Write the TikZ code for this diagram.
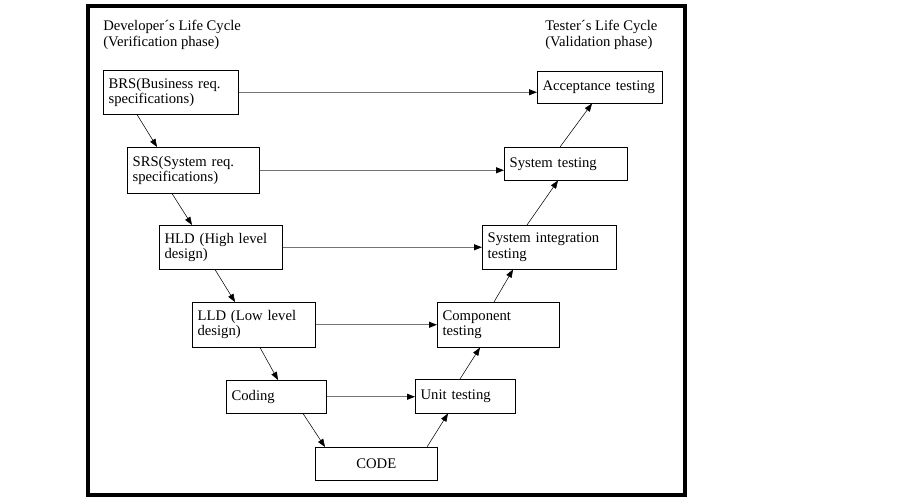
\documentclass[tikz,border=0pt]{standalone}
\usepackage{fontspec}
\setmainfont{Liberation Serif}
\usetikzlibrary{arrows.meta, calc}

\begin{document}
\begin{tikzpicture}[
      x=0.75pt, y=-0.75pt,
      box/.style      = {draw, thin, anchor=north west, align=left, inner xsep=4pt,
                         inner ysep=0pt, font=\fontsize{11}{11.5}\selectfont},
      dims/.style 2 args = {minimum width=#1*0.75pt, text width=#1*0.75pt-8pt,
                         minimum height=#2*0.75pt},
      title/.style    = {anchor=west, align=left, inner sep=0pt,
                         font=\fontsize{11}{12}\selectfont},
      arrow/.style    = {-{Triangle[length=6pt, width=4.5pt]}, thin},
      link/.style     = {-{Triangle[length=6pt, width=4.5pt, color=black]},
                         line width=0.8pt, color=black!55}
    ]
    \useasboundingbox (0,0) rectangle (915,502);
    \draw[line width=3pt] (87.5,6.5) rectangle (684.5,495);

    % Headings
    \node[title] (devhead) at (103,35) {Developer´s Life Cycle\\(Verification phase)};
    \node[title] (testhead) at (545,35) {Tester´s Life Cycle\\(Validation phase)};

    % Developer side
    \node[box, dims={135}{44}] (brs) at (103,70) {BRS(Business req.\\specifications)};
    \node[box, dims={132}{46}] (srs) at (127,147) {SRS(System req.\\specifications)};
    \node[box, dims={123}{44}] (hld) at (159,225) {HLD (High level\\design)};
    \node[box, dims={123}{45}] (lld) at (192,302) {LLD (Low level\\design)};
    \node[box, dims={100}{33}] (coding) at (226,380) {Coding};
    \node[box, dims={122}{33}, align=center] (code) at (315,447) {CODE};

    % Tester side
    \node[box, dims={100}{34}] (unit) at (415,379) {Unit testing};
    \node[box, dims={122}{45}] (comp) at (437,302) {Component\\testing};
    \node[box, dims={134}{44}] (sit) at (482,225) {System integration\\testing};
    \node[box, dims={123}{33}] (syst) at (504,147) {System testing};
    \node[box, dims={125}{32}] (acc) at (537,71) {Acceptance testing};

    % Down the V
    \draw[arrow] ($(brs.south west)+(34,0)$) -- ($(srs.north west)+(30,0)$);
    \draw[arrow] ($(srs.south west)+(45,0)$) -- ($(hld.north west)+(33,0)$);
    \draw[arrow] ($(hld.south west)+(56,0)$) -- ($(lld.north west)+(43,0)$);
    \draw[arrow] ($(lld.south west)+(68,0)$) -- ($(coding.north west)+(52,0)$);
    \draw[arrow] ($(coding.south west)+(77,0)$) -- ($(code.north west)+(10,0)$);

    % Up the V
    \draw[arrow] ($(code.north west)+(112,0)$) -- ($(unit.south west)+(33,0)$);
    \draw[arrow] ($(unit.north west)+(45,0)$) -- ($(comp.south west)+(43,0)$);
    \draw[arrow] ($(comp.north west)+(57,0)$) -- ($(sit.south west)+(31,0)$);
    \draw[arrow] ($(sit.north west)+(45,0)$) -- ($(syst.south west)+(54,0)$);
    \draw[arrow] ($(syst.north west)+(56,0)$) -- ($(acc.south west)+(55,0)$);

    % Across
    \draw[link] (brs.east) -- (brs.east -| acc.west);
    \draw[link] (srs.east) -- (srs.east -| syst.west);
    \draw[link] (hld.east) -- (hld.east -| sit.west);
    \draw[link] (lld.east) -- (lld.east -| comp.west);
    \draw[link] (coding.east) -- (coding.east -| unit.west);

  \end{tikzpicture}
\end{document}
